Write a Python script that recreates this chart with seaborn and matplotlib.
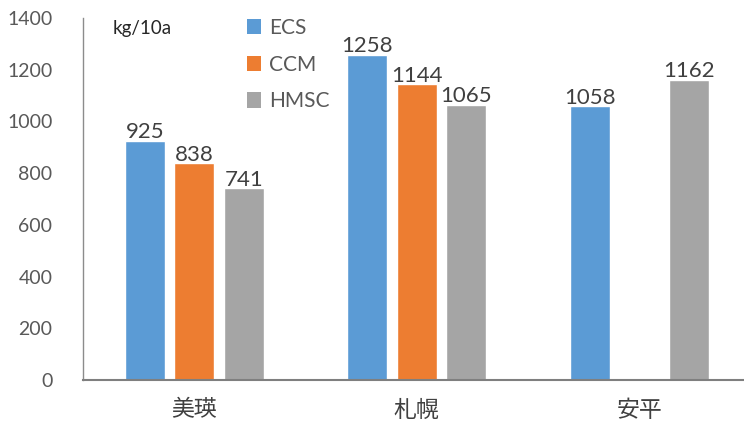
import matplotlib
matplotlib.use("Agg")
import matplotlib.pyplot as plt
import seaborn as sns
import pandas as pd
import numpy as np
from matplotlib.patches import Patch

# Yield by site and method (kg/10a)
sites = ["美瑛", "札幌", "安平"]
methods = ["ECS", "CCM", "HMSC"]
ecs = [925, 1258, 1058]
ccm = [838, 1144, None]
hmsc = [741, 1065, 1162]
yticks = [0, 200, 400, 600, 800, 1000, 1200, 1400]
palette = {"ECS": "#5B9BD5", "CCM": "#ED7D31", "HMSC": "#A5A5A5"}

rows = []
for m, vals in zip(methods, [ecs, ccm, hmsc]):
    for s, v in zip(sites, vals):
        rows.append({"site": s, "method": m, "value": np.nan if v is None else v})
df = pd.DataFrame(rows)

sns.set_theme(style="white")
plt.rcParams["font.family"] = ["Lato", "Noto Sans CJK JP", "DejaVu Sans"]

fig = plt.figure(figsize=(7.44, 4.26), dpi=100)
ax = fig.add_axes([83 / 744, 46 / 426, 667.5 / 744, 362 / 426])

sns.barplot(data=df, x="site", y="value", hue="method", order=sites,
            hue_order=methods, palette=palette, width=0.667, gap=0.19,
            saturation=1, ax=ax, legend=False, err_kws={"linewidth": 0})

for cont, m in zip(ax.containers, methods):
    labels = ["" if np.isnan(v) else f"{int(v)}" for v in cont.datavalues]
    ax.bar_label(cont, labels=labels, padding=-1, fontsize=16, color="#404040")

ax.set_xlim(-0.5, 2.5)
ax.set_ylim(0, 1400)
ax.set_yticks(yticks)
ax.set_xlabel("")
ax.set_ylabel("")
ax.tick_params(axis="y", length=0, labelsize=14, labelcolor="#595959", pad=22)
ax.tick_params(axis="x", length=0, labelsize=16.5, labelcolor="#404040", pad=14)

for side in ["top", "right"]:
    ax.spines[side].set_visible(False)
ax.spines["left"].set_color("#8C8C8C")
ax.spines["left"].set_linewidth(1.0)
ax.spines["bottom"].set_color("#7F7F7F")
ax.spines["bottom"].set_linewidth(1.5)

handles = [Patch(facecolor=palette[m], edgecolor="none") for m in methods]
ax.legend(handles, methods, loc="upper left", bbox_to_anchor=(0.218, 1.052),
          frameon=False, fontsize=15, labelcolor="#595959",
          handlelength=0.65, handleheight=0.75, handletextpad=0.4,
          labelspacing=0.8)

ax.text(0.045, 0.995, "kg/10a", transform=ax.transAxes, fontsize=13.5,
        color="#262626", va="top", ha="left")

fig.savefig("out.png", dpi=100)
